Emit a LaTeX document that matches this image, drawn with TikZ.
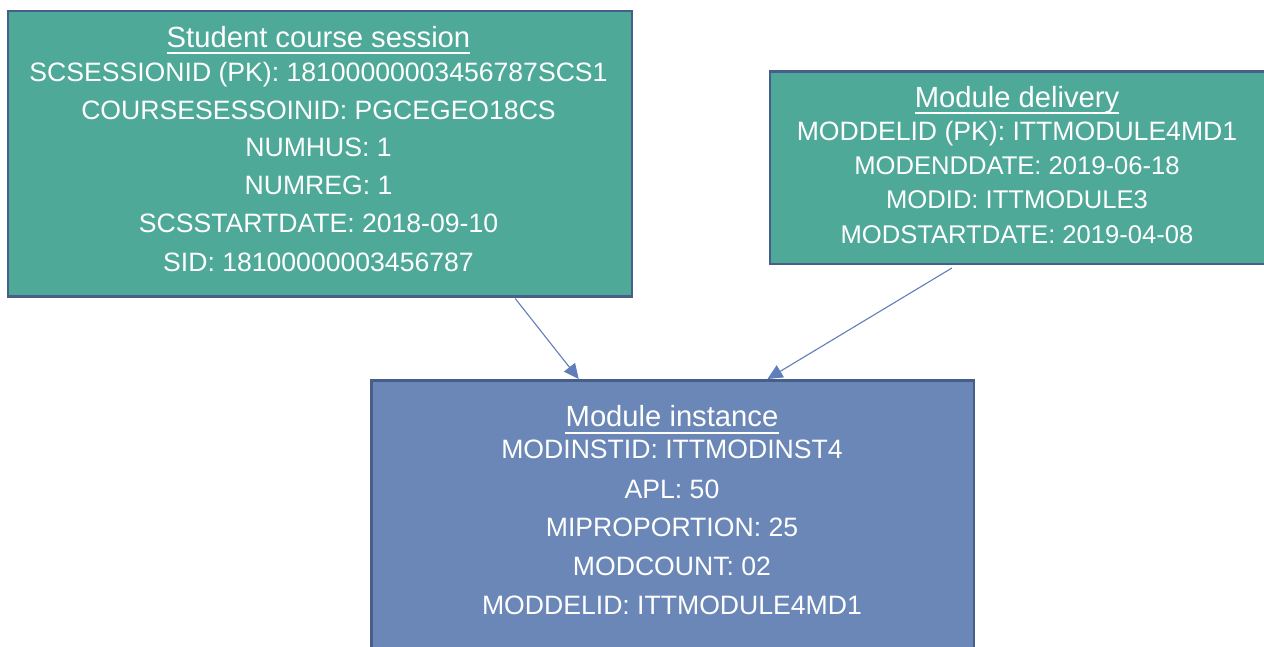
\documentclass[tikz,border=0pt]{standalone}
\usepackage{fontspec}
\setmainfont{Liberation Sans}
\usetikzlibrary{arrows.meta,calc}
\definecolor{tealfill}{RGB}{78,169,152}
\definecolor{bluefill}{RGB}{106,135,184}
\definecolor{boxborder}{RGB}{72,94,138}
\definecolor{arrowcol}{RGB}{96,126,186}
\tikzset{
  box/.style={draw=boxborder, line width=2.5pt, rectangle, inner sep=0pt, anchor=north west},
  tealbox/.style={box, fill=tealfill},
  bluebox/.style={box, fill=bluefill},
  txt/.style={anchor=base, inner sep=0pt, text=white, font=\fontsize{26.6}{30}\selectfont},
  stxt/.style={txt, font=\fontsize{25.6}{30}\selectfont},
  ttl/.style={txt, font=\fontsize{29.2}{32}\selectfont},
  ul/.style={draw=white, line width=2pt},
  conn/.style={draw=arrowcol, line width=1.1pt, -{Triangle[length=15pt,width=14pt]}}
}
\begin{document}
\begin{tikzpicture}[x=1pt,y=-1pt]
\useasboundingbox (0,0) rectangle (1264,646);
\begin{scope}
\clip (0,0) rectangle (1264,646);
% boxes
\node[tealbox, minimum width=624pt, minimum height=285.5pt] (b1) at (6.5,9.5) {};
\node[tealbox, minimum width=500pt, minimum height=192.5pt] (b2) at (768.5,70) {};
\node[bluebox, minimum width=602.5pt, minimum height=290pt] (b3) at (370,379) {};
\end{scope}
% box 1 text
\node[ttl] (t1) at (318.5,47) {Student course session};
\draw[ul] ([yshift=-6pt]t1.base west) -- ([yshift=-6pt]t1.base east);
\node[txt] (l11) at (318.5,81.5) {SCSESSIONID (PK): 18100000003456787SCS1};
\node[txt] (l12) at (318.5,119.5) {COURSESESSOINID: PGCEGEO18CS};
\node[txt] (l13) at (318.5,156.5) {NUMHUS: 1};
\node[txt] (l14) at (318.5,194.5) {NUMREG: 1};
\node[txt] (l15) at (318.5,232.5) {SCSSTARTDATE: 2018-09-10};
\node[txt] (l16) at (318.5,271.5) {SID: 18100000003456787};
% box 2 text
\node[ttl] (t2) at (1017,107) {Module delivery};
\draw[ul] ([yshift=-6pt]t2.base west) -- ([yshift=-6pt]t2.base east);
\node[txt] (l21) at (1017,140.5) {MODDELID (PK): ITTMODULE4MD1};
\node[stxt] (l22) at (1017,174.5) {MODENDDATE: 2019-06-18};
\node[stxt] (l23) at (1017,208.5) {MODID: ITTMODULE3};
\node[stxt] (l24) at (1017,243) {MODSTARTDATE: 2019-04-08};
% box 3 text
\node[ttl] (t3) at (672,426.5) {Module instance};
\draw[ul] ([yshift=-6pt]t3.base west) -- ([yshift=-6pt]t3.base east);
\node[txt] (l31) at (672,458.5) {MODINSTID: ITTMODINST4};
\node[txt] (l32) at (672,498.5) {APL: 50};
\node[txt] (l33) at (672,536.5) {MIPROPORTION: 25};
\node[txt] (l34) at (672,575.5) {MODCOUNT: 02};
\node[txt] (l35) at (672,614.5) {MODDELID: ITTMODULE4MD1};
% connectors
\coordinate (s1) at ($(b1.south west)!0.812!(b1.south east)$);
\coordinate (e1) at ($(b3.north west)!0.345!(b3.north east)$);
\coordinate (s2) at ($(b2.south west)!0.365!(b2.south east)$);
\coordinate (e2) at ($(b3.north west)!0.657!(b3.north east)$);
\draw[conn] ([yshift=-1pt]s1) -- (e1);
\draw[conn] ([yshift=-3pt]s2) -- (e2);
\end{tikzpicture}
\end{document}
